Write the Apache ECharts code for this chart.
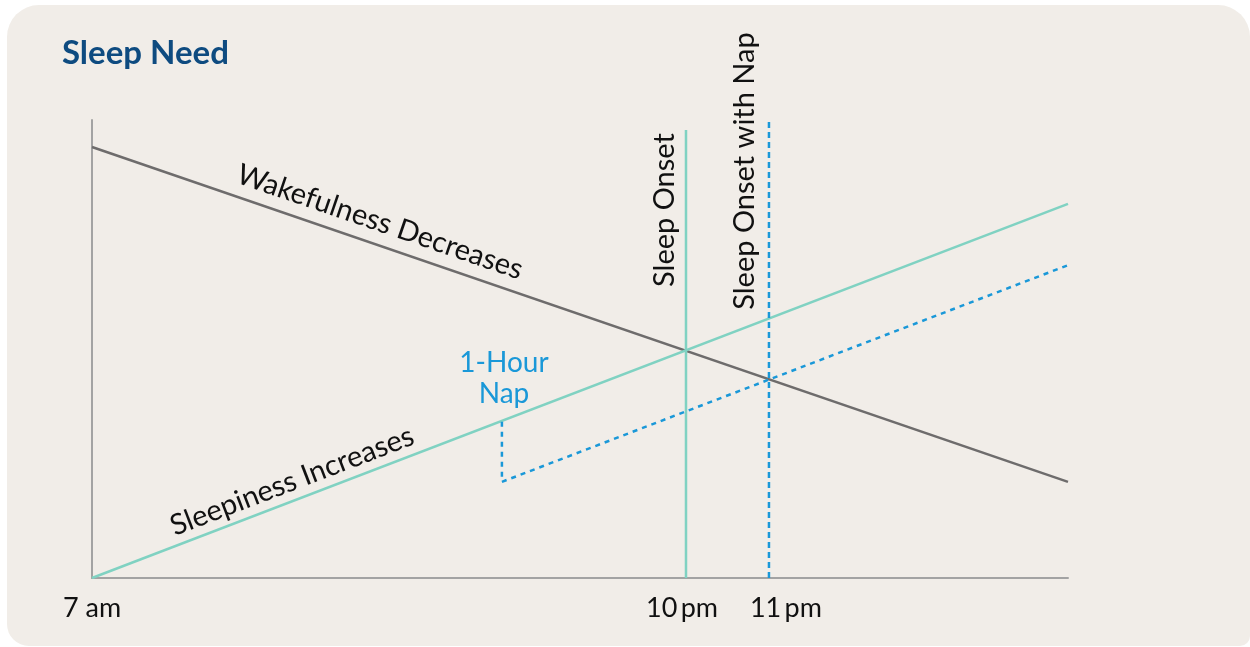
<!DOCTYPE html>
<html>
<head>
<meta charset="utf-8">
<title>Sleep Need</title>
<script src="https://cdn.jsdelivr.net/npm/echarts@6/dist/echarts.min.js"></script>
<style>
  html, body { margin: 0; padding: 0; background: #ffffff; }
  #main { width: 1250px; height: 647px; }
</style>
</head>
<body>
<div id="main"></div>
<script>
// schematic scale: x and y both run 0..100 (7 am at the left edge)
const tickValues = [0, 60.45, 71.1];
const tickLabels = ['7 am', '10\u2009pm', '11\u2009pm'];

const wakeX = [0, 100];
const wakeY = [94.1, 21.0];
const sleepX = [0, 100];
const sleepY = [0, 81.7];
const napX = [42.0, 42.0, 100];
const napY = [34.1, 21.0, 68.3];
const onsetX = [60.86, 60.86];
const onsetY = [0, 97.8];
const onsetNapX = [69.36, 69.36];
const onsetNapY = [0, 100];

const font = 'Lato, "Open Sans", sans-serif';
const teal = '#80d2c2';
const grey = '#6e6c6c';
const blue = '#1a98d8';

const pairs = (xs, ys) => xs.map((x, i) => [x, ys[i]]);

let chartDom = document.getElementById('main');
let myChart = echarts.init(chartDom);

let option = {
    animation: false,
    backgroundColor: 'transparent',
    graphic: [
        {
            type: 'rect', z: -100, silent: true,
            shape: { x: 7, y: 5, width: 1243, height: 641, r: [32, 32, 10, 22] },
            style: { fill: '#f1ede8' }
        },
        {
            type: 'text', left: 62, top: 37,
            style: { text: 'Sleep Need', fill: '#0e4b80', font: 'bold 33px ' + font }
        },
        {
            type: 'text', x: 380, y: 222, rotation: -0.330,
            style: { text: 'Wakefulness Decreases', fill: '#111', font: '29px ' + font, align: 'center', verticalAlign: 'middle' }
        },
        {
            type: 'text', x: 292, y: 481, rotation: 0.366,
            style: { text: 'Sleepiness Increases', fill: '#111', font: '29px ' + font, align: 'center', verticalAlign: 'middle' }
        },
        {
            type: 'text', x: 665, y: 210, rotation: Math.PI / 2,
            style: { text: 'Sleep Onset', fill: '#111', font: '29px ' + font, align: 'center', verticalAlign: 'middle' }
        },
        {
            type: 'text', x: 745, y: 171, rotation: Math.PI / 2,
            style: { text: 'Sleep Onset with Nap', fill: '#111', font: '29px ' + font, align: 'center', verticalAlign: 'middle' }
        },
        {
            type: 'text', x: 504, y: 378,
            style: { text: '1-Hour\nNap', fill: blue, font: '28px ' + font, align: 'center', verticalAlign: 'middle', lineHeight: 31 }
        }
    ],
    grid: { left: 92, right: 182, top: 120, bottom: 69 },
    xAxis: {
        type: 'value', min: 0, max: 100,
        axisLine: { show: true, onZero: false, lineStyle: { color: '#a3a3a3', width: 2 } },
        axisTick: { show: false },
        splitLine: { show: false },
        axisLabel: {
            customValues: tickValues,
            color: '#111', fontSize: 27, fontFamily: font, margin: 17,
            formatter: (v) => {
                let i = tickValues.indexOf(v);
                return i >= 0 ? tickLabels[i] : '';
            }
        }
    },
    yAxis: {
        type: 'value', min: 0, max: 100,
        axisLine: { show: true, lineStyle: { color: '#a3a3a3', width: 2 } },
        axisTick: { show: false },
        axisLabel: { show: false },
        splitLine: { show: false }
    },
    series: [
        {
            name: 'Wakefulness', type: 'line', symbol: 'none',
            lineStyle: { color: grey, width: 2.5 },
            data: pairs(wakeX, wakeY)
        },
        {
            name: 'Sleepiness', type: 'line', symbol: 'none',
            lineStyle: { color: teal, width: 2.5 },
            data: pairs(sleepX, sleepY)
        },
        {
            name: 'Sleep Onset', type: 'line', symbol: 'none',
            lineStyle: { color: teal, width: 2.5 },
            data: pairs(onsetX, onsetY)
        },
        {
            name: 'Sleepiness with Nap', type: 'line', symbol: 'none',
            lineStyle: { color: blue, width: 2.5, type: [5, 5] },
            data: pairs(napX, napY)
        },
        {
            name: 'Sleep Onset with Nap', type: 'line', symbol: 'none',
            lineStyle: { color: blue, width: 2.5, type: [6, 4] },
            data: pairs(onsetNapX, onsetNapY)
        }
    ]
};
option && myChart.setOption(option);
</script>
</body>
</html>
